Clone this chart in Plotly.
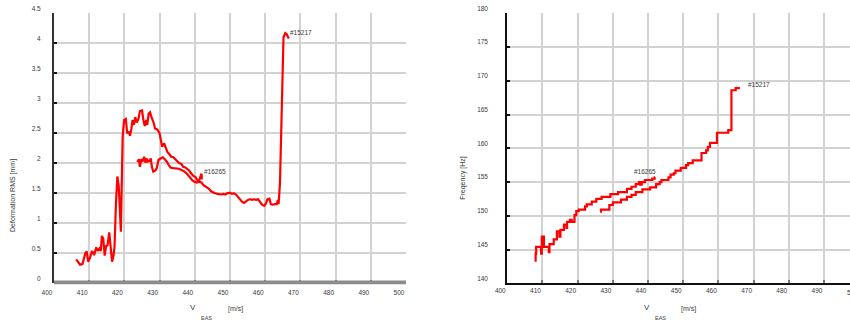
import plotly.graph_objects as go

# ---- Deformation RMS vs V_EAS ----
def_15217_v = [406.3, 407.4, 408.1, 408.9, 409.3, 409.7, 410.2, 410.8, 411.4, 412.0, 412.4, 412.9,
               413.3, 413.6, 414.0, 414.4, 414.8, 415.2, 415.7, 416.1, 416.5, 416.9, 417.2, 417.6,
               418.0, 418.4, 418.8, 419.0, 419.5, 419.9, 420.4, 420.8, 421.2, 421.6, 422.0, 422.3,
               422.7, 423.1, 423.5, 424.0, 424.4, 425.0, 425.4, 425.8, 426.2, 426.5, 426.9, 427.3,
               427.7, 428.3, 428.7, 429.4, 430.0, 430.3, 430.7, 431.3, 431.6, 432.2, 432.8, 433.3,
               433.9, 434.5, 435.0, 435.6, 436.2, 436.7, 437.3, 437.9, 438.4, 439.0, 439.6, 440.2,
               440.7, 441.3, 441.9, 442.4, 443.0, 443.6, 444.1, 444.7, 445.3, 445.8, 446.4, 447.0,
               447.5, 448.1, 448.7, 449.2, 450.0, 450.6, 451.1, 451.7, 452.3, 452.8, 453.4, 454.0,
               454.6, 455.1, 455.7, 456.3, 456.8, 457.4, 458.0, 458.5, 459.1, 459.7, 460.2, 460.6,
               461.2, 461.6, 462.1, 462.7, 463.3, 463.6, 463.8, 464.2, 464.7, 465.2, 465.7, 466.1,
               466.7]
def_15217_rms = [0.40, 0.31, 0.32, 0.50, 0.53, 0.36, 0.42, 0.54, 0.47, 0.60, 0.54, 0.58,
                 0.54, 0.79, 0.74, 0.46, 0.62, 0.63, 0.85, 0.52, 0.36, 0.46, 0.61, 1.33,
                 1.78, 1.61, 0.89, 0.86, 2.44, 2.72, 2.74, 2.50, 2.53, 2.46, 2.58, 2.72,
                 2.64, 2.77, 2.68, 2.74, 2.87, 2.88, 2.72, 2.62, 2.72, 2.64, 2.83, 2.85,
                 2.77, 2.68, 2.58, 2.56, 2.50, 2.42, 2.28, 2.33, 2.28, 2.19, 2.15, 2.11,
                 2.10, 2.07, 2.04, 2.00, 1.99, 1.94, 1.93, 1.90, 1.88, 1.83, 1.79, 1.77,
                 1.72, 1.69, 1.68, 1.64, 1.62, 1.60, 1.57, 1.53, 1.51, 1.50, 1.49, 1.48,
                 1.48, 1.49, 1.48, 1.50, 1.51, 1.49, 1.50, 1.48, 1.43, 1.40, 1.36, 1.34,
                 1.37, 1.39, 1.40, 1.39, 1.40, 1.39, 1.40, 1.36, 1.31, 1.29, 1.33, 1.40,
                 1.41, 1.32, 1.31, 1.32, 1.32, 1.39, 1.32, 1.67, 2.94, 4.10, 4.17, 4.15,
                 4.08]

def_16265_v = [423.7, 424.1, 424.4, 424.8, 425.2, 425.6, 426.0, 426.3, 426.7, 427.1, 427.5, 427.8,
               428.2, 428.8, 429.2, 429.7, 430.3, 430.9, 431.4, 432.0, 432.6, 433.1, 433.9, 434.7,
               435.4, 436.2, 436.9, 437.7, 438.3, 438.8, 439.4, 440.0, 440.5, 441.1, 441.5, 441.9,
               442.0]
def_16265_rms = [2.02, 2.07, 1.94, 2.07, 2.03, 2.11, 2.01, 2.08, 2.03, 2.04, 2.08, 1.94,
                 1.86, 1.88, 1.92, 2.06, 2.08, 2.10, 2.07, 2.03, 1.97, 1.93, 1.92, 1.92,
                 1.91, 1.89, 1.87, 1.83, 1.79, 1.75, 1.71, 1.69, 1.68, 1.69, 1.75, 1.83,
                 1.73]

# ---- Frequency vs V_EAS (stepwise: each point starts a new level) ----
freq_16265_v = [408.05, 408.05, 408.2, 409.6, 409.8, 410.4, 411.8, 412.0, 413.2, 414.1, 414.8,
                415.1, 416.1, 416.8, 417.0, 417.8, 418.3, 419.1, 419.6, 420.3, 422.1, 422.6,
                424.0, 425.3, 426.8, 429.3, 431.5, 434.0, 435.3, 436.5, 437.4, 437.8, 438.2,
                439.1, 441.2, 441.9, 442.0]
freq_16265_hz = [143.2, 144.4, 145.4, 144.4, 146.9, 145.4, 144.6, 145.8, 146.5, 147.7, 146.9,
                 147.9, 148.7, 148.2, 149.1, 149.4, 149.1, 150.1, 150.7, 150.9, 151.4, 151.7,
                 152.1, 152.5, 152.8, 153.2, 153.5, 154.0, 154.3, 154.7, 155.0, 154.6, 155.0,
                 155.3, 155.5, 155.7, 155.7]

freq_15217_v = [426.4, 426.6, 429.0, 430.0, 432.3, 434.0, 435.3, 436.5, 438.4, 440.6, 442.3,
                443.3, 443.8, 445.8, 446.4, 447.3, 447.8, 449.3, 450.8, 451.4, 452.7, 455.2,
                456.5, 457.0, 457.6, 459.6, 462.8, 463.7, 464.9, 466.1]
freq_15217_hz = [150.6, 150.9, 151.6, 152.0, 152.4, 152.8, 153.1, 153.5, 153.9, 154.2, 154.7,
                 155.0, 155.3, 155.7, 156.1, 156.3, 156.7, 157.1, 157.5, 157.8, 158.2, 159.3,
                 159.7, 160.2, 160.8, 162.3, 162.7, 168.6, 168.9, 168.9]

# ---- Axis ticks ----
v_ticks = [400, 410, 420, 430, 440, 450, 460, 470, 480, 490, 500]
rms_ticks = [0, 0.5, 1, 1.5, 2, 2.5, 3, 3.5, 4, 4.5]
rms_labels = ["0", "0.5", "1", "1.5", "2", "2.5", "3", "3.5", "4", "4.5"]
hz_ticks = [140, 145, 150, 155, 160, 165, 170, 175, 180]

# Run labels: (text, v, value)
rms_run_labels = [("#15217", 466.5, 4.18), ("#16265", 442.0, 1.86)]
hz_run_labels = [("#15217", 467.8, 169.4), ("#16265", 435.4, 156.5)]

W, H = 850, 320
RED = "#ff0000"
TXT = "#3a3a3a"
GRID = "#d2d2d2"
FONT = "Liberation Sans, Arial, sans-serif"

fig = go.Figure()

line_style = dict(color=RED, width=2.2)
fig.add_trace(go.Scatter(x=def_15217_v, y=def_15217_rms, mode="lines", line=line_style,
                         xaxis="x", yaxis="y", showlegend=False))
fig.add_trace(go.Scatter(x=def_16265_v, y=def_16265_rms, mode="lines", line=line_style,
                         xaxis="x", yaxis="y", showlegend=False))
fig.add_trace(go.Scatter(x=freq_16265_v, y=freq_16265_hz, mode="lines",
                         line=dict(color=RED, width=2.2, shape="hv"),
                         xaxis="x2", yaxis="y2", showlegend=False))
fig.add_trace(go.Scatter(x=freq_15217_v, y=freq_15217_hz, mode="lines",
                         line=dict(color=RED, width=2.2, shape="hv"),
                         xaxis="x2", yaxis="y2", showlegend=False))

y_dom = [(H - 283.3) / H, (H - 13.3) / H]
tick_font = dict(family=FONT, size=6.5, color=TXT)

common_x = dict(tickvals=v_ticks, showgrid=True, gridcolor=GRID, gridwidth=1.5,
                zeroline=False, ticks="inside", ticklen=3, tickwidth=1.5,
                tickfont=tick_font, ticklabelshift=-7, automargin=False)
common_y = dict(showgrid=True, gridcolor=GRID, gridwidth=1.5, zeroline=False,
                ticks="inside", ticklen=3, tickwidth=2, tickcolor="#111",
                tickfont=tick_font, ticklabelshift=-5, automargin=False)

fig.update_layout(
    template="none",
    width=W, height=H,
    margin=dict(l=0, r=0, t=0, b=0, pad=0),
    paper_bgcolor="white", plot_bgcolor="white",
    font=dict(family=FONT, color=TXT),
    xaxis=dict(domain=[54 / W, 406 / W], range=[400, 500], anchor="y",
               showline=False, tickcolor="#777", ticklabelstandoff=4, **common_x),
    yaxis=dict(domain=y_dom, range=[0, 4.5], anchor="x", tickvals=rms_ticks,
               ticktext=rms_labels, showline=True, linecolor="#333", linewidth=2,
               ticklabelstandoff=10, **common_y),
    xaxis2=dict(domain=[507.3 / W, 1.0], range=[400, 497.4], anchor="y2",
                showline=True, linecolor="#111", linewidth=2, tickcolor="#777",
                ticklabelstandoff=0, **common_x),
    yaxis2=dict(domain=y_dom, range=[140, 180], anchor="x2", tickvals=hz_ticks,
                showline=True, linecolor="#111", linewidth=2,
                ticklabelstandoff=16, **common_y),
)

# Gray baseline band of the deformation chart
fig.add_shape(type="line", xref="x domain", yref="paper", x0=0, x1=1,
              y0=1 - 282.4 / H, y1=1 - 282.4 / H,
              line=dict(color="#8c8c8c", width=3.6), layer="above")

ann = []
lbl_font = dict(family=FONT, size=6.5, color=TXT)
for text, v, val in rms_run_labels:
    ann.append(dict(x=v, y=val, xref="x", yref="y", text=text, showarrow=False,
                    xanchor="left", yanchor="middle", font=lbl_font))
for text, v, val in hz_run_labels:
    ann.append(dict(x=v, y=val, xref="x2", yref="y2", text=text, showarrow=False,
                    xanchor="left", yanchor="middle", font=lbl_font))

# Axis titles
title_font = dict(family=FONT, size=7, color=TXT)
ann.append(dict(x=13 / W, y=1 - 196 / H, xref="paper", yref="paper",
                text="Deformation RMS [mm]", textangle=-90, showarrow=False,
                xanchor="center", yanchor="middle", font=title_font))
ann.append(dict(x=462.3 / W, y=1 - 177.5 / H, xref="paper", yref="paper",
                text="Freqency [Hz]", textangle=-90, showarrow=False,
                xanchor="center", yanchor="middle", font=title_font))
for vx, ex, ux in [(192.7, 206.7, 235.0), (646.7, 660.0, 688.7)]:
    ann.append(dict(x=vx / W, y=1 - 307.3 / H, xref="paper", yref="paper", text="V",
                    showarrow=False, xanchor="center", yanchor="middle",
                    font=dict(family=FONT, size=8, color=TXT)))
    ann.append(dict(x=ex / W, y=1 - 317.5 / H, xref="paper", yref="paper", text="EAS",
                    showarrow=False, xanchor="center", yanchor="middle",
                    font=dict(family=FONT, size=5.5, color=TXT)))
    ann.append(dict(x=ux / W, y=1 - 309.3 / H, xref="paper", yref="paper", text="[m/s]",
                    showarrow=False, xanchor="center", yanchor="middle",
                    font=dict(family=FONT, size=7, color=TXT)))

# Tick label of the last gridline of the frequency chart, which falls past the edge
ann.append(dict(x=852 / W, y=1 - 292 / H, xref="paper", yref="paper", text="500",
                showarrow=False, xanchor="center", yanchor="middle", font=tick_font))

fig.update_layout(annotations=ann)
fig.write_html("out.html")
